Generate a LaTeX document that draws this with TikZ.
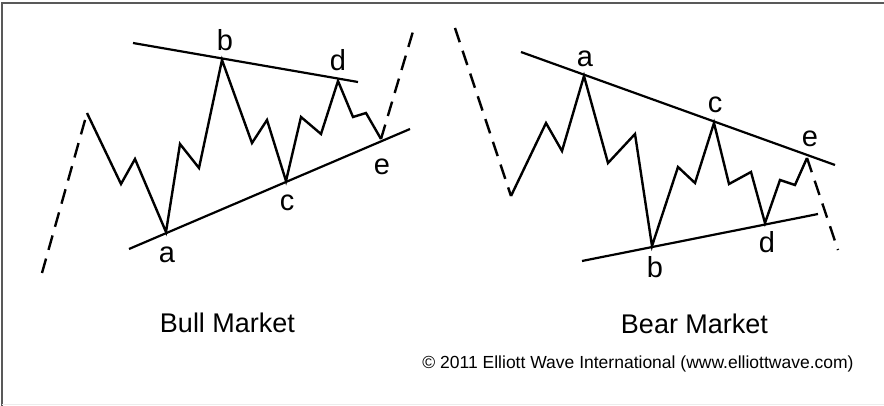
\documentclass[tikz,border=0pt]{standalone}
\usepackage{fontspec}
\setmainfont{Liberation Sans}
\tikzset{
  wave/.style={line width=2.4pt, line join=miter},
  trend/.style={line width=2.2pt},
  extension/.style={line width=2.4pt, dash pattern=on 15pt off 9pt},
  lbl/.style={anchor=base, inner sep=0pt, font=\fontsize{29}{29}\selectfont},
  title/.style={anchor=base, inner sep=0pt, font=\fontsize{27}{27}\selectfont},
}
\begin{document}
\begin{tikzpicture}[x=1pt, y=-1pt]
  \useasboundingbox (0,0) rectangle (884,406);
  \fill[white] (0,0) rectangle (884,406);
  % frame
  \draw[gray!70!black, line width=1.6pt] (2,406) -- (2,3) -- (884,3);
  \draw[gray!15, line width=1pt] (2,404.5) -- (884,404.5);
  % bull market triangle
  \foreach \n/\p in {s/{42,273}, p0/{87,113}, p1/{121,184}, p2/{135,159}, a/{166,232},
      p3/{180,144}, p4/{199,168}, b/{222,60}, p5/{252,143}, p6/{267,120}, c/{286,181},
      p7/{301,117}, p8/{321,134}, d/{338,81}, p9/{353,117}, p10/{366,113}, e/{381,139},
      f/{414,28}}
    \coordinate (bull-\n) at (\p);
  \draw[extension] (bull-s) -- (bull-p0);
  \draw[wave] (bull-p0) -- (bull-p1) -- (bull-p2) -- (bull-a) -- (bull-p3) -- (bull-p4)
    -- (bull-b) -- (bull-p5) -- (bull-p6) -- (bull-c) -- (bull-p7) -- (bull-p8)
    -- (bull-d) -- (bull-p9) -- (bull-p10) -- (bull-e);
  \draw[extension] (bull-e) -- (bull-f);
  \draw[trend] (133,43) coordinate (bull-u1) -- (358,82) coordinate (bull-u2);
  \draw[trend] (129,249) coordinate (bull-l1) -- (410,129) coordinate (bull-l2);
  \node[lbl] (bull-la) at (167,262) {a};
  \node[lbl] (bull-lb) at (225,51) {b};
  \node[lbl] (bull-lc) at (287,211) {c};
  \node[lbl] (bull-ld) at (338,71) {d};
  \node[lbl] (bull-le) at (382,175) {e};
  % bear market triangle
  \foreach \n/\p in {s/{455,28}, p0/{511,196}, p1/{546,123}, p2/{562,151}, a/{584,76},
      p3/{608,163}, p4/{635,134}, b/{652,246}, p5/{678,167}, p6/{695,183}, c/{714,123},
      p7/{729,184}, p8/{751,172}, d/{765,223}, p9/{780,180}, p10/{795,185}, e/{807,158},
      f/{838,250}}
    \coordinate (bear-\n) at (\p);
  \draw[extension] (bear-s) -- (bear-p0);
  \draw[wave] (bear-p0) -- (bear-p1) -- (bear-p2) -- (bear-a) -- (bear-p3) -- (bear-p4)
    -- (bear-b) -- (bear-p5) -- (bear-p6) -- (bear-c) -- (bear-p7) -- (bear-p8)
    -- (bear-d) -- (bear-p9) -- (bear-p10) -- (bear-e);
  \draw[extension] (bear-e) -- (bear-f);
  \draw[trend] (521,52) coordinate (bear-u1) -- (835,165) coordinate (bear-u2);
  \draw[trend] (582,261) coordinate (bear-l1) -- (818,214) coordinate (bear-l2);
  \node[lbl] (bear-la) at (585,67) {a};
  \node[lbl] (bear-lb) at (655,277) {b};
  \node[lbl] (bear-lc) at (715,113) {c};
  \node[lbl] (bear-ld) at (767,253) {d};
  \node[lbl] (bear-le) at (810,147) {e};
  % titles
  \node[title] (bull-title) at (227.5,332) {Bull Market};
  \node[title] (bear-title) at (694.5,333) {Bear Market};
  \node[anchor=base, inner sep=0pt, font=\fontsize{17.5}{17.5}\selectfont] (copy)
    at (638,368) {© 2011 Elliott Wave International (www.elliottwave.com)};
\end{tikzpicture}
\end{document}
